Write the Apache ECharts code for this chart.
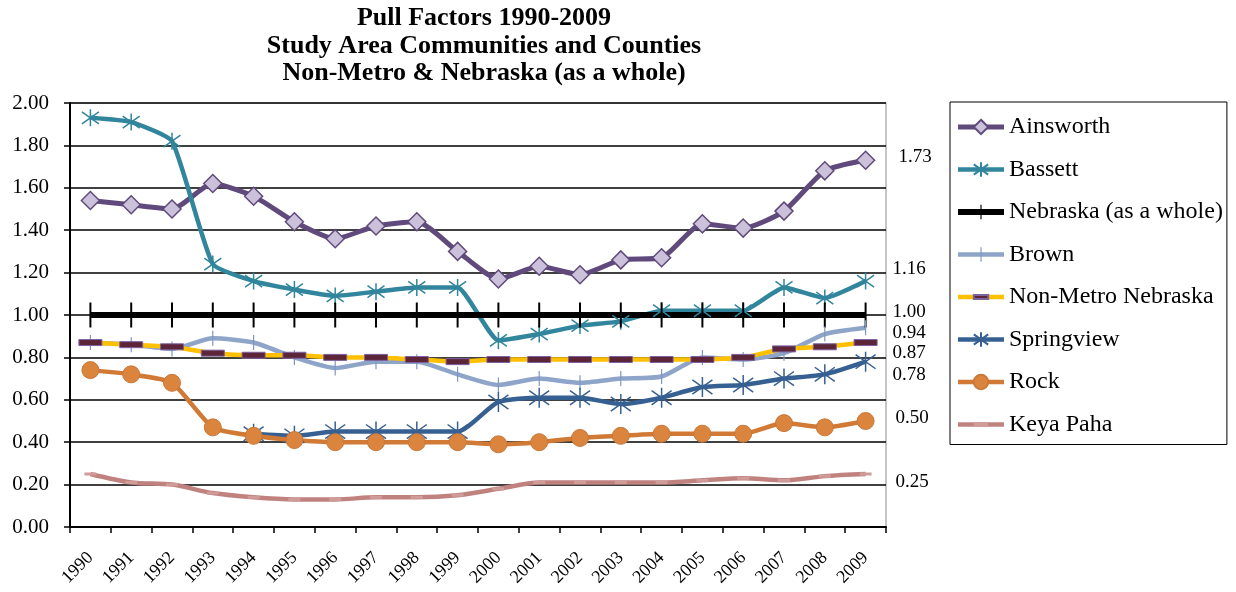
<!DOCTYPE html>
<html>
<head>
<meta charset="utf-8">
<script src="https://cdn.jsdelivr.net/npm/echarts@6/dist/echarts.min.js"></script>
<style>
  html, body { margin: 0; padding: 0; background: #fff; }
  #chart { width: 1236px; height: 592px; }
</style>
</head>
<body>
<div id="chart"></div>
<script>
const years = ["1990", "1991", "1992", "1993", "1994", "1995", "1996", "1997", "1998", "1999",
  "2000", "2001", "2002", "2003", "2004", "2005", "2006", "2007", "2008", "2009"];
const ainsworth = [1.54, 1.52, 1.50, 1.62, 1.56, 1.44, 1.36, 1.42, 1.44, 1.30, 1.17, 1.23, 1.19, 1.26, 1.27, 1.43, 1.41, 1.49, 1.68, 1.73];
const bassett = [1.93, 1.91, 1.82, 1.24, 1.16, 1.12, 1.09, 1.11, 1.13, 1.13, 0.88, 0.91, 0.95, 0.97, 1.02, 1.02, 1.02, 1.13, 1.08, 1.16];
const nebraska = [1.00, 1.00, 1.00, 1.00, 1.00, 1.00, 1.00, 1.00, 1.00, 1.00, 1.00, 1.00, 1.00, 1.00, 1.00, 1.00, 1.00, 1.00, 1.00, 1.00];
const brown = [0.87, 0.86, 0.84, 0.89, 0.87, 0.80, 0.75, 0.78, 0.78, 0.72, 0.67, 0.70, 0.68, 0.70, 0.71, 0.80, 0.79, 0.82, 0.91, 0.94];
const nonMetro = [0.87, 0.86, 0.85, 0.82, 0.81, 0.81, 0.80, 0.80, 0.79, 0.78, 0.79, 0.79, 0.79, 0.79, 0.79, 0.79, 0.80, 0.84, 0.85, 0.87];
const springview = [null, null, null, null, 0.44, 0.43, 0.45, 0.45, 0.45, 0.45, 0.59, 0.61, 0.61, 0.58, 0.61, 0.66, 0.67, 0.70, 0.72, 0.78];
const rock = [0.74, 0.72, 0.68, 0.47, 0.43, 0.41, 0.40, 0.40, 0.40, 0.40, 0.39, 0.40, 0.42, 0.43, 0.44, 0.44, 0.44, 0.49, 0.47, 0.50];
const keyaPaha = [0.25, 0.21, 0.20, 0.16, 0.14, 0.13, 0.13, 0.14, 0.14, 0.15, 0.18, 0.21, 0.21, 0.21, 0.21, 0.22, 0.23, 0.22, 0.24, 0.25];

const FONT = "'Liberation Serif', 'Times New Roman', serif";
// marker shapes drawn inside a square box so the legend does not stretch them
const ASTERISK = "path://M10,0L10,20M2.9,2.9L17.1,17.1M2.9,17.1L17.1,2.9";
const VBAR = "path://M0,0M25,25M11.5,0h2v25h-2z";
const DASH = "path://M0,0M23,23M0,8.5h23v6h-23z";
const SMALL_DASH = "path://M0,0M12,12M0,4.5h12v3h-12z";

function endLabel(dx, dy) {
  return {
    show: true,
    distance: 0,
    offset: [dx, dy],
    align: "left",
    fontFamily: FONT,
    fontSize: 19,
    color: "#000",
    formatter: (p) => Number(p.value).toFixed(2)
  };
}

const chart = echarts.init(document.getElementById("chart"));
const option = {
  animation: false,
  backgroundColor: "#fff",
  title: {
    text: "Pull Factors 1990-2009\nStudy Area Communities and Counties\nNon-Metro & Nebraska (as a whole)",
    left: 479,
    top: 0,
    textAlign: "center",
    textStyle: { fontFamily: FONT, fontSize: 26, fontWeight: "bold", color: "#000", lineHeight: 27.5 }
  },
  legend: {
    orient: "vertical",
    left: 950,
    top: 102,
    padding: [13, 4, 8, 5],
    itemWidth: 46,
    itemHeight: 18,
    itemGap: 18.5,
    borderColor: "#000",
    borderWidth: 1,
    lineStyle: { width: "inherit" },
    textStyle: { fontFamily: FONT, fontSize: 24, color: "#000", lineHeight: 22 },
    data: ["Ainsworth", "Bassett", "Nebraska (as a whole)", "Brown", "Non-Metro Nebraska", "Springview", "Rock", "Keya Paha"]
  },
  grid: { left: 70, right: 350, top: 103, bottom: 65, show: true, borderColor: "#8c8c8c", borderWidth: 1 },
  xAxis: {
    type: "category",
    data: years,
    boundaryGap: true,
    axisLine: { lineStyle: { color: "#000", width: 2 } },
    axisTick: { show: true, interval: 0, length: 6, lineStyle: { color: "#000", width: 1.5 } },
    axisLabel: { interval: 0, rotate: 45, margin: 28, fontFamily: FONT, fontSize: 18, color: "#000" },
    splitLine: { show: false }
  },
  yAxis: {
    type: "value",
    min: 0,
    max: 2,
    interval: 0.2,
    axisLine: { show: true, lineStyle: { color: "#000", width: 2 } },
    axisTick: { show: true, length: 6, lineStyle: { color: "#000", width: 1.5 } },
    axisLabel: { margin: 21, fontFamily: FONT, fontSize: 21, color: "#000", formatter: (v) => v.toFixed(2) },
    splitLine: { lineStyle: { color: "#000", width: 1.5 } }
  },
  series: [
    {
      name: "Ainsworth", type: "line", data: ainsworth, smooth: 0.2,
      symbol: "diamond", symbolSize: 18,
      lineStyle: { color: "#604a7b", width: 5 },
      itemStyle: { color: "#ccc1da", borderColor: "#604a7b", borderWidth: 1.5 },
      endLabel: endLabel(33, -3)
    },
    {
      name: "Bassett", type: "line", data: bassett, smooth: 0.15,
      symbol: ASTERISK, symbolSize: 17,
      lineStyle: { color: "#31859c", width: 4.5 },
      itemStyle: { color: "#31859c", borderColor: "#31859c", borderWidth: 1.5 },
      endLabel: endLabel(27, -12)
    },
    {
      name: "Nebraska (as a whole)", type: "line", data: nebraska,
      symbol: VBAR, symbolSize: 25,
      lineStyle: { color: "#000", width: 6 },
      itemStyle: { color: "#000" },
      endLabel: endLabel(27, -3)
    },
    {
      name: "Brown", type: "line", data: brown, smooth: 0.2,
      symbol: VBAR, symbolSize: 15,
      lineStyle: { color: "#8ea4c8", width: 4.5 },
      itemStyle: { color: "#7f97c2" },
      endLabel: endLabel(27, 5)
    },
    {
      name: "Non-Metro Nebraska", type: "line", data: nonMetro, smooth: 0.2,
      symbol: DASH, symbolSize: 23,
      lineStyle: { color: "#ffc000", width: 4.5 },
      itemStyle: { color: "#5c2538", borderColor: "#7d62a0", borderWidth: 1 },
      endLabel: endLabel(27, 10)
    },
    {
      name: "Springview", type: "line", data: springview, smooth: 0.2,
      symbol: ASTERISK, symbolSize: 20,
      lineStyle: { color: "#376092", width: 4.5 },
      itemStyle: { color: "#376092", borderColor: "#376092", borderWidth: 1.5 },
      endLabel: endLabel(27, 13)
    },
    {
      name: "Rock", type: "line", data: rock, smooth: 0.2,
      symbol: "circle", symbolSize: 17,
      lineStyle: { color: "#d07a36", width: 4.5 },
      itemStyle: { color: "#da843e", borderColor: "#c9793a", borderWidth: 1 },
      endLabel: endLabel(30, -3)
    },
    {
      name: "Keya Paha", type: "line", data: keyaPaha, smooth: 0.3,
      symbol: SMALL_DASH, symbolSize: 12,
      lineStyle: { color: "#c0827f", width: 4.5 },
      itemStyle: { color: "#cf9c99" },
      endLabel: endLabel(30, 8)
    }
  ]
};
chart.setOption(option);
</script>
</body>
</html>
